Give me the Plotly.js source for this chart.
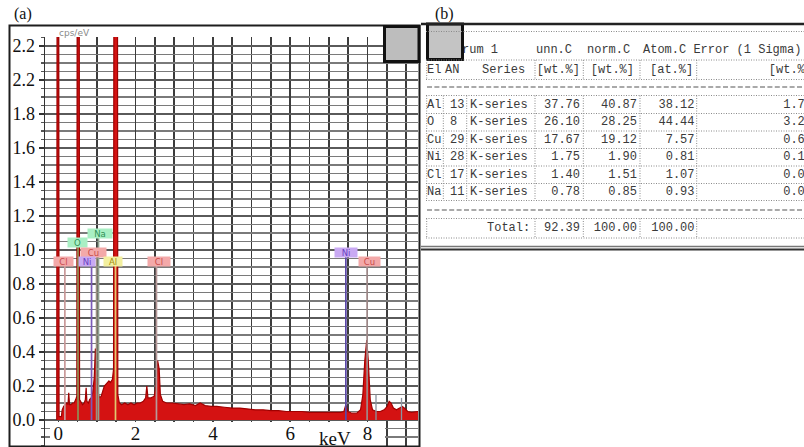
<!DOCTYPE html>
<html><head><meta charset="utf-8">
<script src="https://cdn.plot.ly/plotly-3.0.1.min.js"></script>
<style>html,body{margin:0;padding:0;background:#fff;}#chart{width:804px;height:447px;}</style>
</head><body><div id="chart"></div>
<script>
// ---------- (a) EDS spectrum data ----------
const energyKeV = [-0.04,-0.03,0.01,0.02,0.08,0.10,0.14,0.18,0.22,0.25,0.27,0.29,0.33,0.37,0.41,0.45,0.48,0.49,0.54,0.55,
  0.59,0.63,0.67,0.70,0.72,0.74,0.78,0.81,0.85,0.89,0.93,0.96,0.99,1.03,1.07,1.11,1.15,1.19,1.23,1.27,1.31,1.35,1.40,1.43,
  1.44,1.53,1.54,1.58,1.64,1.72,1.80,1.88,1.96,2.04,2.12,2.20,2.26,2.29,2.32,2.40,2.48,2.53,2.57,2.61,2.64,2.70,2.80,2.95,
  3.10,3.25,3.40,3.55,3.67,3.80,3.95,4.10,4.30,4.50,4.70,4.90,5.10,5.30,5.50,5.70,5.90,6.10,6.30,6.50,6.70,6.90,7.10,7.30,
  7.39,7.44,7.49,7.60,7.72,7.82,7.88,7.93,7.98,8.02,8.07,8.13,8.23,8.33,8.43,8.51,8.56,8.61,8.67,8.75,8.83,8.90,8.96,9.04,
  9.14,9.24,9.31];
const countsCpsPerEv = [0,3,3,0.02,0.02,0.06,0.08,0.09,0.10,0.09,0.16,0.09,0.09,0.10,0.10,0.12,0.14,3,3,0.12,
  0.10,0.09,0.10,0.12,0.19,0.11,0.10,0.12,0.13,0.16,0.25,0.42,0.28,0.16,0.13,0.14,0.17,0.20,0.21,0.22,0.23,0.22,0.24,0.30,
  3,3,0.15,0.10,0.09,0.10,0.09,0.10,0.09,0.10,0.10,0.11,0.13,0.20,0.13,0.13,0.14,0.20,0.35,0.30,0.15,0.11,0.10,0.10,
  0.095,0.09,0.095,0.085,0.10,0.085,0.08,0.08,0.075,0.07,0.07,0.065,0.06,0.06,0.055,0.055,0.05,0.05,0.05,0.045,0.045,0.045,0.045,0.045,
  0.05,0.09,0.05,0.04,0.04,0.06,0.15,0.35,0.47,0.35,0.12,0.06,0.05,0.05,0.06,0.08,0.11,0.10,0.07,0.06,0.07,0.08,0.07,0.05,
  0.045,0.05,0.05];
const peakElements = ['Cl','O','Na','Cu','Ni','Al','Cl','Ni','Cu'];
const peakLineKeV  = [0.17,0.51,1.04,0.99,0.86,1.48,2.54,7.44,7.99];
const minorLineKeV = [8.22,8.88];
const minorLineCps = [0.15,0.13];
const xTickVals = [0,2,4,6,8];
const xTickText = ['0','2','4','6','8'];
const yTickVals = [0,0.2,0.4,0.6,0.8,1.0,1.2,1.4,1.6,1.8,2.0,2.2];
const yTickText = ['0.0','0.2','0.4','0.6','0.8','1.0','1.2','1.4','1.6','1.8','2.2','2.2'];

// ---------- (b) quantification table data ----------
const tblElement  = ['Al','O','Cu','Ni','Cl','Na'];
const tblAN       = [13,8,29,28,17,11];
const tblSeries   = ['K-series','K-series','K-series','K-series','K-series','K-series'];
const tblUnnC     = [37.76,26.10,17.67,1.75,1.40,0.78];
const tblNormC    = [40.87,28.25,19.12,1.90,1.51,0.85];
const tblAtomC    = [38.12,44.44,7.57,0.81,1.07,0.93];
const tblErr      = [1.78,3.28,0.60,0.12,0.08,0.09];
const tblTotals   = [92.39,100.00,100.00];
const tblHeader1  = ['rum 1','unn.C','norm.C','Atom.C Error (1 Sigma)'];
const tblHeader2  = ['El','AN','Series','[wt.%]','[wt.%]','[at.%]','[wt.%]'];
const tblTotalLbl = 'Total:';

// ---------- styling / layout constants ----------
const W = 804, H = 447;
const px = v => v / W, py = v => 1 - v / H;
const labelStyle = [
  {x:0.135,y:0.932,w:19,bg:'#f3a9a9',fg:'#c84a4a',lc:'#c99a9a'},
  {x:0.497,y:1.044,w:19,bg:'#a9efc4',fg:'#2f8f55',lc:'#8f8f55'},
  {x:1.079,y:1.100,w:24,bg:'#a9efc4',fg:'#2f8f55',lc:'#8fa08f'},
  {x:0.911,y:0.988,w:25,bg:'#f3a9a9',fg:'#c84a4a',lc:'#9a9080'},
  {x:0.743,y:0.932,w:16,bg:'#c9a9f3',fg:'#6a3fc0',lc:'#7a5ab8'},
  {x:1.415,y:0.932,w:18,bg:'#f3f0a0',fg:'#a08a10',lc:'#e0c870'},
  {x:2.605,y:0.932,w:22,bg:'#f3a9a9',fg:'#c84a4a',lc:'#b89a9a'},
  {x:7.440,y:0.988,w:22,bg:'#c9a9f3',fg:'#6a3fc0',lc:'#5a48a8'},
  {x:8.050,y:0.932,w:21,bg:'#f3a9a9',fg:'#c84a4a',lc:'#a08a8a'}
];
const serif = 'Liberation Serif, Times New Roman, serif';
const mono = 'Liberation Mono, DejaVu Sans Mono, monospace';
const tColor = '#3a3a3a';

const traces = [];
traces.push({type:'scatter', x:energyKeV, y:countsCpsPerEv, mode:'lines', fill:'tozeroy',
  fillcolor:'#d41212', line:{color:'#a00000', width:1.2}, hoverinfo:'skip', xaxis:'x', yaxis:'y'});
peakElements.forEach((el,i)=>{
  traces.push({type:'scatter', x:[peakLineKeV[i],peakLineKeV[i]], y:[0,labelStyle[i].y-0.027], mode:'lines',
    line:{color:labelStyle[i].lc, width:1.7}, hoverinfo:'skip', xaxis:'x', yaxis:'y'});
});
minorLineKeV.forEach((e,i)=>{
  traces.push({type:'scatter', x:[e,e], y:[0,minorLineCps[i]], mode:'lines',
    line:{color:'#8a94a0', width:1.3}, hoverinfo:'skip', xaxis:'x', yaxis:'y'});
});

// table text traces (x2/y2 in pixel-like units)
const rowY0 = 105, rowStep = 17.45;
const rowsY = tblElement.map((_,i)=> rowY0 + i*rowStep);
function textTrace(xs, ys, txt, pos){
  return {type:'scatter', mode:'text', x:xs, y:ys, text:txt, textposition:pos,
    textfont:{family:mono, size:12, color:tColor}, hoverinfo:'skip', xaxis:'x2', yaxis:'y2', cliponaxis:true};
}
const rep = (v)=> rowsY.map(()=>v);
traces.push(textTrace([462,536,587,643], [49.5,49.5,49.5,49.5], tblHeader1, 'middle right'));
traces.push(textTrace([427,445,482,580,634,650,812], [70,70,70,70,70,70,70], tblHeader2,
  ['middle right','middle right','middle right','middle left','middle left','middle right','middle left']));
traces.push(textTrace(rep(427), rowsY, tblElement, 'middle right'));
traces.push(textTrace(rep(450), rowsY, tblAN.map(String), 'middle right'));
traces.push(textTrace(rep(470), rowsY, tblSeries, 'middle right'));
traces.push(textTrace(rep(580), rowsY, tblUnnC.map(v=>v.toFixed(2)), 'middle left'));
traces.push(textTrace(rep(637), rowsY, tblNormC.map(v=>v.toFixed(2)), 'middle left'));
traces.push(textTrace(rep(694.5), rowsY, tblAtomC.map(v=>v.toFixed(2)), 'middle left'));
traces.push(textTrace(rep(812), rowsY, tblErr.map(v=>v.toFixed(2)), 'middle left'));
traces.push(textTrace([487,580,637,694.5], [227.7,227.7,227.7,227.7],
  [tblTotalLbl].concat(tblTotals.map(v=>v.toFixed(2))), ['middle right','middle left','middle left','middle left']));

// shapes
const shapes = [];
// white box under x labels
shapes.push({type:'rect', xref:'x', yref:'y', x0:(50-58.3)/38.65, x1:(385-58.3)/38.65, y0:-0.16, y1:-0.012,
  fillcolor:'#ffffff', line:{width:0}, layer:'between'});
// panel (a) frame
shapes.push({type:'rect', xref:'paper', yref:'paper', x0:px(9.5), x1:px(419.5), y0:py(446.5), y1:py(25.5),
  line:{color:'#1e1e1e', width:2}});
// grey squares
shapes.push({type:'rect', xref:'paper', yref:'paper', x0:px(384.5), x1:px(419), y0:py(61.5), y1:py(26.5),
  fillcolor:'#bdbdbd', line:{color:'#111', width:3}});
shapes.push({type:'rect', x0:427.5, x1:462.5, y0:24, y1:59.5, xref:'x2', yref:'y2',
  fillcolor:'#c4c4c4', line:{color:'#111', width:3}});
// table borders
shapes.push({type:'line', xref:'x2', yref:'y2', x0:421, x1:804, y0:24, y1:24, line:{color:'#222', width:2.5}});
shapes.push({type:'line', xref:'x2', yref:'y2', x0:421, x1:804, y0:246.5, y1:246.5, line:{color:'#777', width:1.5}});
shapes.push({type:'line', xref:'x2', yref:'y2', x0:421, x1:804, y0:249.5, y1:249.5, line:{color:'#333', width:2}});
// dotted horizontal lines
[31.5, 60, 79.5, 95.5, 113.5, 131, 148.5, 166, 183.5, 200.5, 218.5, 238].forEach(y=>{
  shapes.push({type:'line', xref:'x2', yref:'y2', x0:426, x1:804, y0:y, y1:y, line:{color:'#8a8a8a', width:1, dash:'1px,1.5px'}});
});
// dashed separator rows
[87, 210].forEach(y=>{
  shapes.push({type:'line', xref:'x2', yref:'y2', x0:427, x1:804, y0:y, y1:y, line:{color:'#555', width:1.2, dash:'5px,2.4px'}});
});
// dotted vertical lines
const vHead = [426.7,535,583.3,640,696.7];
const vData = [426.7,443.3,466.7,535,583.3,640,696.7];
vHead.forEach(x=>shapes.push({type:'line', xref:'x2', yref:'y2', x0:x, x1:x, y0:60, y1:79.5, line:{color:'#8a8a8a', width:1, dash:'1px,1.5px'}}));
vData.forEach(x=>shapes.push({type:'line', xref:'x2', yref:'y2', x0:x, x1:x, y0:95.5, y1:200.5, line:{color:'#8a8a8a', width:1, dash:'1px,1.5px'}}));
vHead.forEach(x=>shapes.push({type:'line', xref:'x2', yref:'y2', x0:x, x1:x, y0:218.5, y1:238, line:{color:'#8a8a8a', width:1, dash:'1px,1.5px'}}));

// annotations
const annotations = [];
peakElements.forEach((el,i)=>{
  const s = labelStyle[i];
  annotations.push({xref:'x', yref:'y', x:s.x, y:s.y, text:el, showarrow:false,
    font:{family:'DejaVu Sans, sans-serif', size:8.5, color:s.fg}, bgcolor:s.bg,
    width:s.w, height:9, borderpad:0, xanchor:'center', yanchor:'middle'});
});
annotations.push({xref:'paper', yref:'paper', x:px(74), y:py(33), text:'cps/eV', showarrow:false,
  font:{family:'DejaVu Sans, sans-serif', size:9, color:'#8a8a8a'}, xanchor:'center', yanchor:'middle'});
annotations.push({xref:'paper', yref:'paper', x:px(335), y:py(438), text:'keV', showarrow:false,
  font:{family:serif, size:19, color:'#111'}, xanchor:'center', yanchor:'middle'});
annotations.push({xref:'paper', yref:'paper', x:px(23), y:py(14), text:'(a)', showarrow:false,
  font:{family:serif, size:16, color:'#111'}, xanchor:'center', yanchor:'middle'});
annotations.push({xref:'paper', yref:'paper', x:px(445), y:py(14), text:'(b)', showarrow:false,
  font:{family:serif, size:16, color:'#111'}, xanchor:'center', yanchor:'middle'});

const layout = {
  width:W, height:H, margin:{l:0,r:0,t:0,b:0}, paper_bgcolor:'#fff', plot_bgcolor:'#fff',
  showlegend:false,
  xaxis:{domain:[px(45), px(418)], range:[(45-58.3)/38.65, (418-58.3)/38.65], anchor:'free', position:py(420),
    tickvals:xTickVals, ticktext:xTickText, ticks:'', showgrid:true, gridcolor:'#3c3c3c', gridwidth:1.6,
    zeroline:false, showline:false, tickfont:{family:serif, size:19, color:'#111'},
    minor:{tick0:0, dtick:0.5, showgrid:true, gridcolor:'#3c3c3c', gridwidth:1.6}},
  yaxis:{domain:[py(446), py(37)], range:[-(446-420)/170, (420-37)/170], anchor:'x',
    tickvals:yTickVals, ticktext:yTickText, ticks:'outside', ticklen:5, tickcolor:'#333', tickwidth:1.2,
    showgrid:true, gridcolor:'#5a5a5a', gridwidth:1.4, zeroline:false, showline:true, linecolor:'#333', linewidth:1.5,
    tickfont:{family:serif, size:18, color:'#111'},
    minor:{tick0:0, dtick:0.05, showgrid:true, gridcolor:'#7a7a7a', gridwidth:1.2, ticks:'outside', ticklen:3, tickcolor:'#555'}},
  xaxis2:{domain:[px(421), 1], range:[421, 804], visible:false, anchor:'y2', fixedrange:true},
  yaxis2:{domain:[0,1], range:[447, 0], visible:false, anchor:'x2', fixedrange:true},
  shapes:shapes, annotations:annotations
};
Plotly.newPlot('chart', traces, layout, {staticPlot:true, displayModeBar:false});
</script></body></html>
